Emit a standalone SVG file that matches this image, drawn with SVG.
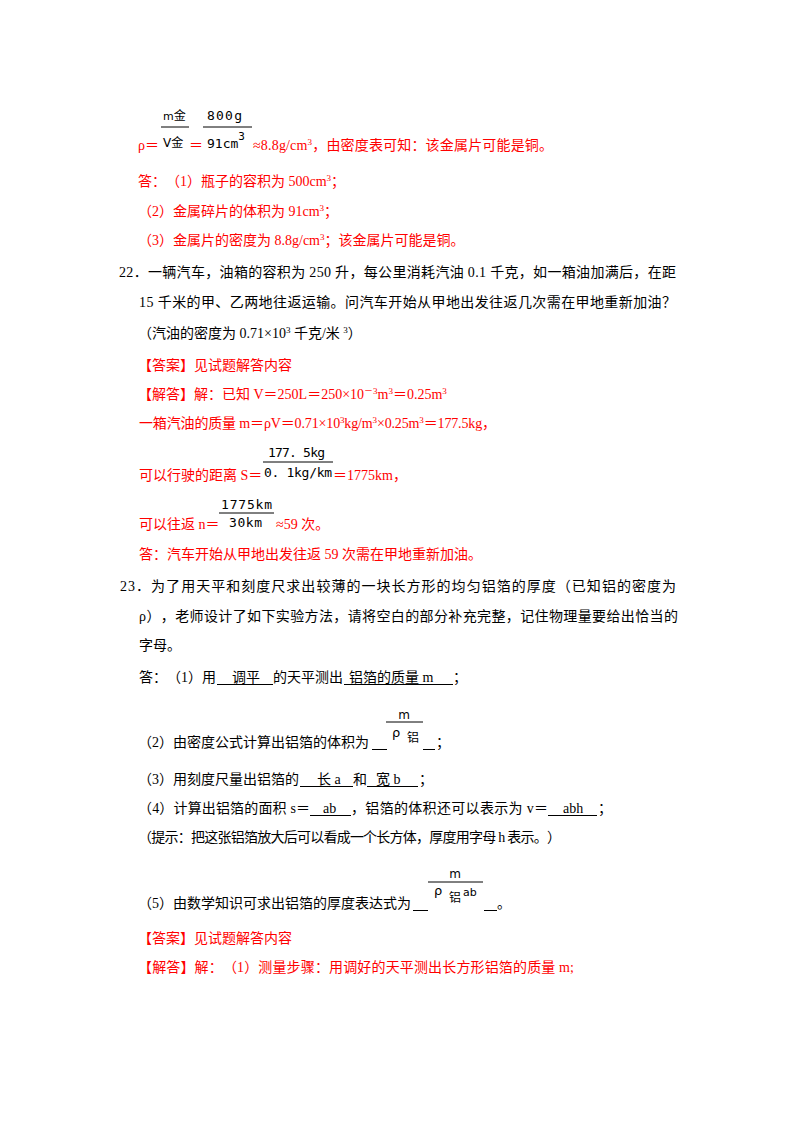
<svg xmlns="http://www.w3.org/2000/svg" width="800" height="1132" viewBox="0 0 800 1132">
<style>
text{text-spacing-trim:space-all}
.t{font-family:"Liberation Serif","Noto Sans CJK SC",serif;font-size:14px}
.k{fill:#000}
.r{fill:#f00}
.f{font-family:"DejaVu Sans Mono","Noto Sans CJK SC",monospace;font-size:13px;fill:#000}
.g{font-family:"DejaVu Sans","Noto Sans CJK SC",sans-serif;fill:#000}
.ln{stroke:#000;stroke-width:1;fill:none}
</style>
<rect width="800" height="1132" fill="#fff"/>

<g id="solution21">
<text class="t r" x="138" y="150">ρ＝</text>
<line class="ln" x1="161" y1="127" x2="189" y2="127"/>
<text class="g" x="163" y="120" font-size="11">m<tspan font-size="12">金</tspan></text>
<text class="g" x="163" y="147" font-size="12">V<tspan>金</tspan></text>
<text class="t r" x="189" y="150">＝</text>
<line class="ln" x1="203" y1="127" x2="252" y2="127"/>
<text class="f" x="207" y="120" textLength="35">800g</text>
<text class="f" x="207" y="148">91cm<tspan dy="-8" font-size="11">3</tspan></text>
<text class="t r" x="253" y="150" textLength="300">≈8.8g/cm<tspan dy="-5" font-size="9">3</tspan><tspan dy="5">，由密度表可知：该金属片可能是铜。</tspan></text>
<text class="t r" x="138" y="186">答：（1）瓶子的容积为 500cm<tspan dy="-5" font-size="9">3</tspan><tspan dy="5">；</tspan></text>
<text class="t r" x="138" y="216">（2）金属碎片的体积为 91cm<tspan dy="-5" font-size="9">3</tspan><tspan dy="5">；</tspan></text>
<text class="t r" x="138" y="245">（3）金属片的密度为 8.8g/cm<tspan dy="-5" font-size="9">3</tspan><tspan dy="5">；该金属片可能是铜。</tspan></text>
</g>

<g id="question22">
<text class="t k" x="119" y="277" textLength="557">22．一辆汽车，油箱的容积为 250 升，每公里消耗汽油 0.1 千克，如一箱油加满后，在距</text>
<text class="t k" x="139" y="307" textLength="537">15 千米的甲、乙两地往返运输。问汽车开始从甲地出发往返几次需在甲地重新加油？</text>
<text class="t k" x="138" y="338">（汽油的密度为 0.71×10<tspan dy="-5" font-size="9">3</tspan><tspan dy="5"> 千克/米 </tspan><tspan dy="-5" font-size="9">3</tspan><tspan dy="5">）</tspan></text>
<text class="t r" x="138" y="370">【答案】见试题解答内容</text>
<text class="t r" x="138" y="399">【解答】解：已知 V＝250L＝250×10<tspan dy="-5" font-size="9">－3</tspan><tspan dy="5">m</tspan><tspan dy="-5" font-size="9">3</tspan><tspan dy="5">＝0.25m</tspan><tspan dy="-5" font-size="9">3</tspan></text>
<text class="t r" x="139" y="428" textLength="357">一箱汽油的质量 m＝ρV＝0.71×10<tspan dy="-5" font-size="9">3</tspan><tspan dy="5">kg/m</tspan><tspan dy="-5" font-size="9">3</tspan><tspan dy="5">×0.25m</tspan><tspan dy="-5" font-size="9">3</tspan><tspan dy="5">＝177.5kg，</tspan></text>
<text class="t r" x="139" y="480">可以行驶的距离 S＝</text>
<line class="ln" x1="263" y1="462" x2="333" y2="462"/>
<text class="f" x="268" y="457" textLength="57">177. 5kg</text>
<text class="f" x="264" y="477" textLength="68">0. 1kg/km</text>
<text class="t r" x="333" y="480">＝1775km，</text>
<text class="t r" x="139" y="529">可以往返 n＝</text>
<line class="ln" x1="219" y1="513" x2="274" y2="513"/>
<text class="f" x="221" y="509" textLength="51">1775km</text>
<text class="f" x="229" y="527" textLength="33">30km</text>
<text class="t r" x="276" y="529">≈59 次。</text>
<text class="t r" x="139" y="559">答：汽车开始从甲地出发往返 59 次需在甲地重新加油。</text>
</g>

<g id="question23">
<text class="t k" x="120" y="591" textLength="556">23．为了用天平和刻度尺求出较薄的一块长方形的均匀铝箔的厚度（已知铝的密度为</text>
<text class="t k" x="139" y="621" textLength="539">ρ），老师设计了如下实验方法，请将空白的部分补充完整，记住物理量要给出恰当的</text>
<text class="t k" x="139" y="650">字母。</text>

<text class="t k" x="139" y="682">答：（1）用</text>
<text class="t k" x="232" y="682">调平</text>
<text class="t k" x="273" y="682">的天平测出</text>
<text class="t k" x="349" y="682">铝箔的质量 m</text>
<text class="t k" x="453" y="682">；</text>

<text class="t k" x="138" y="747">（2）由密度公式计算出铝箔的体积为</text>
<line class="ln" x1="386" y1="722" x2="423" y2="722"/>
<text class="g" x="404" y="719" font-size="12" text-anchor="middle">m</text>
<text class="g" x="392" y="737" font-size="13">ρ</text>
<text class="g" x="407" y="742" font-size="12">铝</text>
<text class="t k" x="436" y="747">；</text>

<text class="t k" x="138" y="784">（3）用刻度尺量出铝箔的</text>
<text class="t k" x="317" y="784">长 a</text>
<text class="t k" x="353" y="784">和</text>
<text class="t k" x="376" y="784">宽 b</text>
<text class="t k" x="419" y="784">；</text>

<text class="t k" x="138" y="813" textLength="172">（4）计算出铝箔的面积 s＝</text>
<text class="t k" x="323" y="813">ab</text>
<text class="t k" x="351" y="813" textLength="197">，铝箔的体积还可以表示为 v＝</text>
<text class="t k" x="563" y="813">abh</text>
<text class="t k" x="598" y="813">；</text>

<text class="t k" x="138" y="842" textLength="423">（提示：把这张铝箔放大后可以看成一个长方体，厚度用字母 h 表示。）</text>

<text class="t k" x="138" y="908">（5）由数学知识可求出铝箔的厚度表达式为</text>
<line class="ln" x1="428" y1="882" x2="483" y2="882"/>
<text class="g" x="455" y="878" font-size="12" text-anchor="middle">m</text>
<text class="g" x="434" y="895" font-size="13">ρ</text>
<text class="g" x="449" y="902" font-size="12">铝</text>
<text class="g" x="463" y="896" font-size="11">ab</text>
<text class="t k" x="497" y="908">。</text>

<text class="t r" x="138" y="943">【答案】见试题解答内容</text>
<text class="t r" x="138" y="972" textLength="436">【解答】解：（1）测量步骤：用调好的天平测出长方形铝箔的质量 m;</text>
</g>

<g id="connectors">
<line class="ln" x1="217" y1="684.5" x2="273" y2="684.5"/>
<line class="ln" x1="344" y1="684.5" x2="453" y2="684.5"/>
<line class="ln" x1="372" y1="749.5" x2="387" y2="749.5"/>
<line class="ln" x1="423" y1="749.5" x2="435" y2="749.5"/>
<line class="ln" x1="300" y1="786.5" x2="353" y2="786.5"/>
<line class="ln" x1="367" y1="786.5" x2="418" y2="786.5"/>
<line class="ln" x1="310" y1="815.5" x2="351" y2="815.5"/>
<line class="ln" x1="548" y1="815.5" x2="597" y2="815.5"/>
<line class="ln" x1="413" y1="910.5" x2="428" y2="910.5"/>
<line class="ln" x1="484" y1="910.5" x2="497" y2="910.5"/>
</g>
</svg>
